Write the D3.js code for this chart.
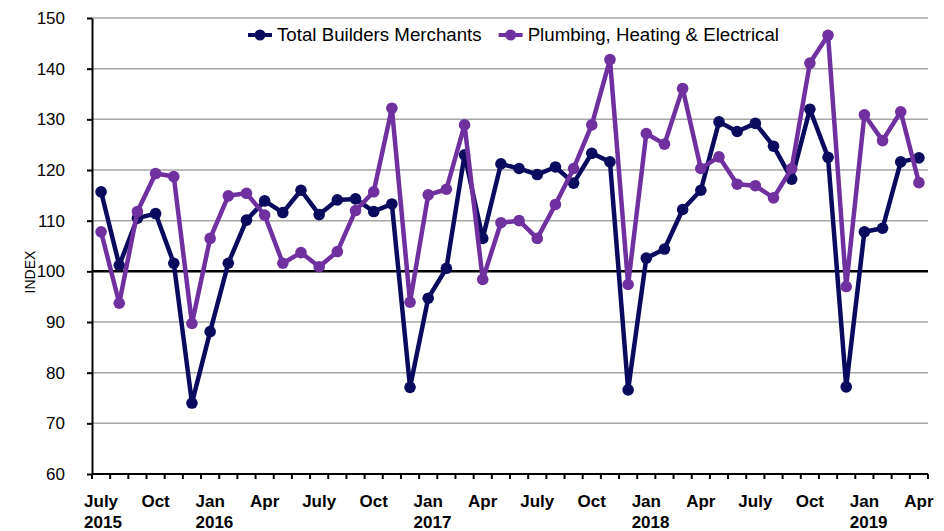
<!DOCTYPE html>
<html lang="en">
<head>
    <meta charset="UTF-8">
    <title>Builders Merchants Index</title>
    <style>
        body { margin: 0; background: #fff; }
        svg { display: block; }
        .grid line { stroke: #a6a6a6; stroke-width: 1.5px; }
        .axis path, .axis line { stroke: #000; stroke-width: 2px; }
        .ylab, .legend text, .ytitle { font-family: "Liberation Sans Narrow", "Liberation Sans", sans-serif; fill: #000; }
        .xlab { font-family: "Liberation Sans Narrow", "Liberation Sans", sans-serif; font-weight: bold; font-size: 17px; fill: #000; }
        .series { fill: none; stroke-width: 4.5px; stroke-linejoin: round; }
    </style>
</head>
<body>
    <svg width="944" height="531"></svg>
    <script src="https://d3js.org/d3.v7.min.js"></script>
    <script>
        // Months, July 2015 .. April 2019
        const monthNames = ["Jan","Feb","Mar","Apr","May","Jun","July","Aug","Sep","Oct","Nov","Dec"];
        const months = [];
        for (let k = 0; k < 46; k++) {
            const m = (6 + k) % 12, yr = 2015 + Math.floor((6 + k) / 12);
            months.push({ m, y: yr, key: monthNames[m] + " " + yr });
        }

        const totalBuilders = [
            115.7, 101.2, 110.5, 111.4, 101.6, 74.0,
            88.1, 101.6, 110.1, 113.9, 111.6, 116.0, 111.2, 114.1, 114.3, 111.8, 113.3, 77.1,
            94.7, 100.6, 123.0, 106.5, 121.2, 120.3, 119.1, 120.6, 117.4, 123.3, 121.6, 76.6,
            102.6, 104.4, 112.2, 116.0, 129.5, 127.6, 129.2, 124.7, 118.2, 132.0, 122.5, 77.2,
            107.8, 108.5, 121.6, 122.4
        ];
        const plumbing = [
            107.8, 93.7, 111.8, 119.3, 118.7, 89.7,
            106.5, 114.9, 115.4, 111.1, 101.6, 103.7, 100.9, 103.9, 112.0, 115.7, 132.2, 93.9,
            115.1, 116.2, 128.9, 98.4, 109.6, 110.0, 106.5, 113.2, 120.3, 128.9, 141.8, 97.4,
            127.2, 125.1, 136.1, 120.3, 122.6, 117.2, 116.9, 114.5, 120.3, 141.1, 146.6, 97.0,
            130.9, 125.8, 131.5, 117.5
        ];
        const yTicks = [60, 70, 80, 90, 100, 110, 120, 130, 140, 150];

        const series = [
            { name: "Total Builders Merchants", values: totalBuilders, color: "#0a0a5e" },
            { name: "Plumbing, Heating & Electrical", values: plumbing, color: "#7030a0" }
        ];

        const plotL = 92, plotR = 928, plotT = 18, plotB = 474;
        const svg = d3.select("svg");

        const x = d3.scaleBand().domain(months.map(d => d.key)).range([plotL, plotR]).padding(0);
        const cx = i => x(months[i].key) + x.bandwidth() / 2;
        const y = d3.scaleLinear().domain([60, 150]).range([plotB, plotT]);

        // gridlines
        svg.append("g").attr("class", "grid")
            .selectAll("line").data(yTicks.filter(t => t !== 60 && t !== 100)).join("line")
            .attr("x1", plotL).attr("x2", plotR)
            .attr("y1", d => y(d)).attr("y2", d => y(d));

        // y axis
        svg.append("g").attr("class", "axis")
            .attr("transform", `translate(${plotL},0)`)
            .call(d3.axisLeft(y).tickValues(yTicks).tickSize(5).tickSizeOuter(0).tickFormat(""));
        svg.append("g").selectAll("text").data(yTicks).join("text")
            .attr("class", "ylab")
            .attr("x", 65).attr("y", d => y(d) + 6)
            .attr("text-anchor", "end").attr("font-size", 17)
            .text(d => d);

        svg.append("text").attr("class", "ytitle")
            .attr("transform", `translate(35,272) rotate(-90)`)
            .attr("text-anchor", "middle").attr("font-size", 14)
            .text("INDEX");

        // x axis: ticks at month boundaries
        const xg = svg.append("g").attr("class", "axis");
        xg.append("line").attr("x1", plotL).attr("x2", plotR).attr("y1", plotB).attr("y2", plotB);
        xg.selectAll("line.t").data(d3.range(47)).join("line").attr("class", "t")
            .attr("x1", i => plotL + i * x.step()).attr("x2", i => plotL + i * x.step())
            .attr("y1", plotB).attr("y2", plotB + 5);

        // reference line at 100
        svg.append("line")
            .attr("x1", plotL).attr("x2", plotR)
            .attr("y1", y(100)).attr("y2", y(100))
            .attr("stroke", "#000").attr("stroke-width", 2.5);

        // x labels every quarter
        d3.range(0, 46, 3).forEach(i => {
            const mo = months[i];
            const t = svg.append("text").attr("class", "xlab")
                .attr("x", cx(i)).attr("y", 507).attr("text-anchor", "middle")
                .text(monthNames[mo.m]);
            if (i === 0 || mo.m === 0) {
                const w = t.node().getComputedTextLength();
                svg.append("text").attr("class", "xlab")
                    .attr("x", cx(i) - w / 2).attr("y", 528)
                    .text(mo.y);
            }
        });

        // lines and markers
        const line = d3.line().x((d, i) => cx(i)).y(d => y(d));
        series.forEach(s => {
            svg.append("path").attr("class", "series")
                .attr("d", line(s.values)).attr("stroke", s.color);
            svg.append("g").selectAll("circle").data(s.values).join("circle")
                .attr("cx", (d, i) => cx(i)).attr("cy", d => y(d))
                .attr("r", 5.8).attr("fill", s.color);
        });

        // legend
        const lg = svg.append("g").attr("class", "legend");
        let lx = 248;
        series.forEach(s => {
            lg.append("line").attr("x1", lx).attr("x2", lx + 24).attr("y1", 35).attr("y2", 35)
                .attr("stroke", s.color).attr("stroke-width", 4);
            lg.append("circle").attr("cx", lx + 12).attr("cy", 35).attr("r", 5.5).attr("fill", s.color);
            const t = lg.append("text").attr("x", lx + 29).attr("y", 41)
                .attr("font-size", 18.7).attr("fill", "#222").text(s.name);
            lx += 29 + t.node().getComputedTextLength() + 17;
        });
    </script>
</body>
</html>
